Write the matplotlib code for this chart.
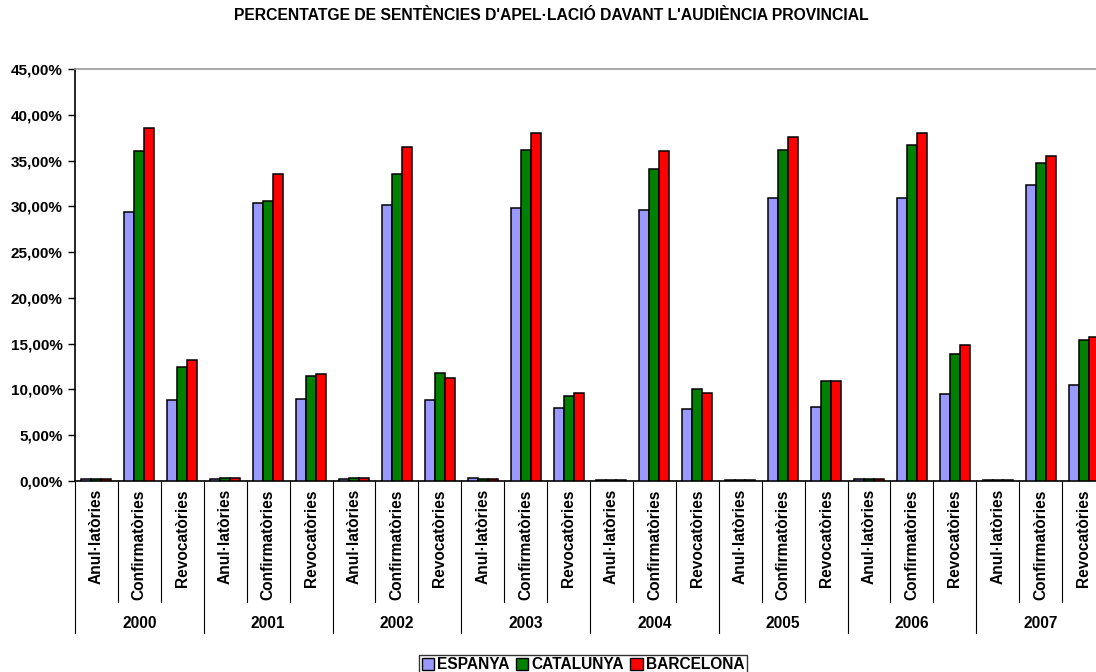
import matplotlib
matplotlib.use("Agg")
import matplotlib.pyplot as plt
import matplotlib.transforms as mtransforms
from matplotlib.patches import Patch
from matplotlib.ticker import FuncFormatter
from matplotlib import font_manager
import numpy as np

plt.rcParams['font.family'] = ['Liberation Sans', 'DejaVu Sans']

years = ['2000', '2001', '2002', '2003', '2004', '2005', '2006', '2007']
types = ['Anul·latòries', 'Confirmatòries', 'Revocatòries']
series_names = ['ESPANYA', 'CATALUNYA', 'BARCELONA']
colors = ['#9999FF', '#008000', '#FF0000']

espanya = [0.20, 29.4, 8.85,
           0.20, 30.4, 9.00,
           0.25, 30.2, 8.90,
           0.30, 29.85, 7.95,
           0.15, 29.6, 7.85,
           0.15, 30.9, 8.05,
           0.20, 30.9, 9.45,
           0.15, 32.35, 10.45]
catalunya = [0.25, 36.0, 12.5,
             0.35, 30.6, 11.45,
             0.35, 33.55, 11.85,
             0.25, 36.1, 9.3,
             0.10, 34.1, 10.1,
             0.10, 36.1, 10.95,
             0.20, 36.7, 13.85,
             0.10, 34.75, 15.45]
barcelona = [0.25, 38.6, 13.2,
             0.30, 33.5, 11.7,
             0.30, 36.5, 11.25,
             0.25, 38.05, 9.65,
             0.10, 36.0, 9.65,
             0.10, 37.6, 10.9,
             0.20, 38.05, 14.9,
             0.10, 35.55, 15.7]
series = [espanya, catalunya, barcelona]

fig = plt.figure(figsize=(10.96, 6.72), dpi=100)
ax = fig.add_axes([75/1096, 191/672, 1030/1096, 412/672])

n = len(years) * len(types)
x = np.arange(n)
bw = 0.7 / 3
for i, (vals, c) in enumerate(zip(series, colors)):
    ax.bar(x + (i - 1) * bw, vals, width=bw, color=c, edgecolor='black',
           linewidth=1.1, zorder=3)

ax.set_xlim(-0.5, n - 0.5)
ax.set_ylim(0, 45)
ax.set_yticks(np.arange(0, 45.1, 5))
ax.yaxis.set_major_formatter(FuncFormatter(lambda v, p: f"{v:.2f}".replace('.', ',') + '%'))
for lab in ax.get_yticklabels():
    lab.set_fontweight('bold')
ax.tick_params(axis='y', labelsize=11, direction='out', length=5, width=1, pad=4)
ax.set_xticks([])

ax.spines['right'].set_visible(False)
ax.spines['top'].set_color('#999999')
ax.spines['top'].set_linewidth(1.2)
ax.spines['left'].set_linewidth(1.2)
ax.spines['bottom'].set_linewidth(1.2)

trans = mtransforms.blended_transform_factory(ax.transData, ax.transAxes)
# category labels
for k in range(n):
    ax.text(k, -0.02, types[k % 3], rotation=90, ha='center', va='top',
            fontsize=11.2, fontweight='bold', transform=trans)
# separators
for k in range(n + 1):
    xx = k - 0.5
    if k % 3 == 0:
        ax.plot([xx, xx], [0, -0.37], color='black', lw=0.8, transform=trans, clip_on=False)
    else:
        ax.plot([xx, xx], [0, -0.293], color='black', lw=0.8, transform=trans, clip_on=False)
# year labels
for j, y in enumerate(years):
    ax.text(3 * j + 1, -0.347, y, ha='center', va='center', fontsize=11.2,
            fontweight='bold', transform=trans)

names = {f.name for f in font_manager.fontManager.ttflist}
title_family = ['Liberation Sans Narrow', 'Liberation Sans', 'DejaVu Sans'] if 'Liberation Sans Narrow' in names else ['Liberation Sans', 'DejaVu Sans']
title_size = 13 if 'Liberation Sans Narrow' in names else 11.3
fig.text(551/1096, 1 - 16/672, "PERCENTATGE DE SENTÈNCIES D'APEL·LACIÓ DAVANT L'AUDIÈNCIA PROVINCIAL",
         ha='center', va='center', fontsize=title_size, fontweight='bold', family=title_family)

handles = [Patch(facecolor=c, edgecolor='black', linewidth=1.0) for c in colors]
leg = fig.legend(handles, series_names, loc='upper center',
                 bbox_to_anchor=(583/1096, 1 - 647/672), ncol=3, frameon=True,
                 fancybox=False, edgecolor='black', handlelength=0.8, handleheight=0.8,
                 handletextpad=0.2, columnspacing=0.4, borderpad=0.15,
                 prop={'weight': 'bold', 'size': 11.2})
leg.get_frame().set_linewidth(1.0)

fig.savefig('out.png', dpi=100)
